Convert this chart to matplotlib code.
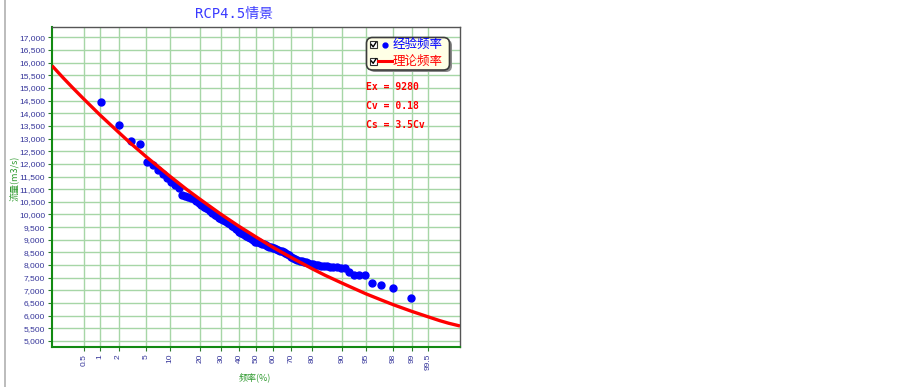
"""P-III frequency curve (RCP4.5) on normal probability paper -> out.png"""

from statistics import NormalDist

import matplotlib
matplotlib.use("Agg")
import matplotlib.pyplot as plt
import matplotlib.transforms as mtransforms
import numpy as np
from matplotlib.lines import Line2D
from matplotlib.patches import FancyBboxPatch, Rectangle
from matplotlib.ticker import NullLocator

W, H = 903, 387

title = "RCP4.5情景"
x_label = "频率(%)"
y_label = "流量(m3/s)"
legend_labels = ["经验频率", "理论频率"]
param_lines = ["Ex = 9280", "Cv = 0.18", "Cs = 3.5Cv"]

freq_ticks = [0.5, 1, 2, 5, 10, 20, 30, 40, 50, 60, 70, 80, 90, 95, 98, 99, 99.5]
freq_tick_labels = ["0.5", "1", "2", "5", "10", "20", "30", "40", "50", "60",
                    "70", "80", "90", "95", "98", "99", "99.5"]

emp_freq = [1.03, 2.06, 3.09, 4.12, 5.15, 6.19, 7.22, 8.25, 9.28, 10.31,
            11.34, 12.37, 13.40, 14.43, 15.46, 16.49, 17.53, 18.56, 19.59, 20.62,
            21.65, 22.68, 23.71, 24.74, 25.77, 26.80, 27.84, 28.87, 29.90, 30.93,
            31.96, 32.99, 34.02, 35.05, 36.08, 37.11, 38.14, 39.18, 40.21, 41.24,
            42.27, 43.30, 44.33, 45.36, 46.39, 47.42, 48.45, 49.48, 50.52, 51.55,
            52.58, 53.61, 54.64, 55.67, 56.70, 57.73, 58.76, 59.79, 60.82, 61.86,
            62.89, 63.92, 64.95, 65.98, 67.01, 68.04, 69.07, 70.10, 71.13, 72.16,
            73.20, 74.23, 75.26, 76.29, 77.32, 78.35, 79.38, 80.41, 81.44, 82.47,
            83.51, 84.54, 85.57, 86.60, 87.63, 88.66, 89.69, 90.72, 91.75, 92.78,
            93.81, 94.85, 95.88, 96.91, 97.94, 98.97]
emp_flow = [14460, 13550, 12900, 12790, 12060, 11950, 11760, 11590, 11430, 11290,
            11170, 11030, 10760, 10720, 10690, 10660, 10610, 10540, 10440, 10370,
            10300, 10260, 10220, 10140, 10070, 9990, 9930, 9850, 9810, 9770,
            9730, 9700, 9650, 9610, 9550, 9490, 9430, 9390, 9320, 9260,
            9240, 9200, 9140, 9120, 9080, 9020, 8980, 8930, 8920, 8900,
            8880, 8840, 8820, 8780, 8750, 8720, 8700, 8680, 8670, 8640,
            8600, 8570, 8540, 8500, 8460, 8420, 8390, 8330, 8270, 8230,
            8200, 8170, 8150, 8130, 8110, 8090, 8060, 8030, 8010, 7990,
            7970, 7960, 7950, 7930, 7920, 7910, 7900,
            7880, 7710, 7610, 7610, 7610, 7290, 7230, 7100, 6710]

# theoretical curve
curve_freq = [0.115, 0.2, 0.3, 0.5, 1, 2, 3, 5, 10, 15, 20, 30, 40, 50, 60,
              70, 80, 85, 90, 95, 97, 98, 99, 99.5, 99.7, 99.8, 99.885]
curve_flow = [15880, 15390, 15030, 14570, 13920, 13250, 12830, 12290, 11500,
              10990, 10610, 10010, 9530, 9110, 8700, 8300, 7850, 7590, 7290,
              6860, 6610, 6430, 6170, 5950, 5800, 5700, 5590]

BLUE = "#0000ff"
RED = "#ff0000"
TICK_C = "#35359a"
GREEN_TXT = "#2f9a2f"

_nd = NormalDist()
_ppf = np.vectorize(_nd.inv_cdf, otypes=[float])
_cdf = np.vectorize(_nd.cdf, otypes=[float])


def prob_fwd(p):
    p = np.clip(np.asarray(p, dtype=float) / 100.0, 1e-7, 1 - 1e-7)
    return _ppf(p)


def prob_inv(z):
    return _cdf(np.asarray(z, dtype=float)) * 100.0


fig = plt.figure(figsize=(W / 100, H / 100), dpi=100)
fig.patch.set_facecolor("white")
ax = fig.add_axes([52 / W, 1 - 347 / H, 408 / W, 320 / H])

ax.set_xscale("function", functions=(prob_fwd, prob_inv))
ax.set_xlim(0.115, 99.885)
ax.set_ylim(4760, 17410)

ax.plot(emp_freq, emp_flow, "o", color=BLUE, ms=5, mec=BLUE, zorder=3)
ax.plot(curve_freq, curve_flow, "-", color=RED, lw=2.4, zorder=4,
        solid_capstyle="butt")

ax.set_xticks(freq_ticks)
ax.set_xticklabels(freq_tick_labels, rotation=90, fontsize=6,
                   family="Liberation Sans", color=TICK_C)
ax.xaxis.set_minor_locator(NullLocator())
yt = np.arange(5000, 17001, 500)
ax.set_yticks(yt)
ax.set_yticklabels([f"{v:,}" for v in yt], fontsize=6,
                   family="Liberation Sans", color=TICK_C)
ax.tick_params(axis="both", length=3, width=0.8, color="#2a7a2a", pad=2)

ax.grid(True, color="#a6d6a6", lw=1.0, zorder=0)
ax.set_axisbelow(True)
for side in ("left", "bottom"):
    ax.spines[side].set_color("#128a12")
    ax.spines[side].set_linewidth(1.5)
for side in ("top", "right"):
    ax.spines[side].set_color("#555555")
    ax.spines[side].set_linewidth(1.0)

# pixel coords measured from the top-left corner
px = mtransforms.Affine2D().scale(1, -1).translate(0, H)

fig.add_artist(Line2D([5, 5], [0, H], transform=px, color="#b0b0b0", lw=1.2))

fig.text(234, 14, title, transform=px, ha="center", va="center", fontsize=10,
         color="#3a3aff", family=["DejaVu Sans Mono", "Noto Sans CJK SC"])
fig.text(15, 178, y_label, transform=px, ha="center", va="center", rotation=90,
         fontsize=6.5, color=GREEN_TXT, family=["Noto Sans CJK SC", "DejaVu Sans"])
fig.text(255, 377, x_label, transform=px, ha="center", va="center",
         fontsize=6.5, color=GREEN_TXT, family=["Noto Sans CJK SC", "DejaVu Sans"])

# legend box with shadow
fig.add_artist(FancyBboxPatch((369, 39.5), 83, 32.5, transform=px,
                              boxstyle="round,pad=0,rounding_size=6",
                              fc="#8a8a8a", ec="none", zorder=5))
fig.add_artist(FancyBboxPatch((366.5, 37.5), 83, 32.5, transform=px,
                              boxstyle="round,pad=0,rounding_size=6",
                              fc="#ffffe6", ec="#3c3c3c", lw=1.2, zorder=6))
for row, (label, color) in enumerate(zip(legend_labels, [BLUE, RED])):
    cy = 44.5 + row * 16.5
    fig.add_artist(Rectangle((370, cy - 3.5), 7, 7, transform=px, fc="white",
                             ec="#303030", lw=0.8, zorder=7))
    fig.add_artist(Line2D([371.3, 373.2, 376], [cy, cy + 2.3, cy - 2.2],
                          transform=px, color="black", lw=1.0, zorder=8))
    if row == 0:
        fig.add_artist(Line2D([385], [cy], transform=px, marker="o", ms=3.5,
                              color=BLUE, zorder=8))
    else:
        fig.add_artist(Line2D([378, 392], [cy, cy], transform=px, color=RED,
                              lw=2.2, zorder=8))
    fig.text(393, cy, label, transform=px, ha="left", va="center", fontsize=9,
             color=color, family=["Noto Sans CJK SC", "DejaVu Sans"], zorder=8)

for i, line in enumerate(param_lines):
    fig.text(366, 87 + i * 19, line, transform=px, ha="left", va="center",
             fontsize=7, color=RED, weight="bold", family="DejaVu Sans Mono")

fig.savefig("out.png", dpi=100, facecolor="white")
